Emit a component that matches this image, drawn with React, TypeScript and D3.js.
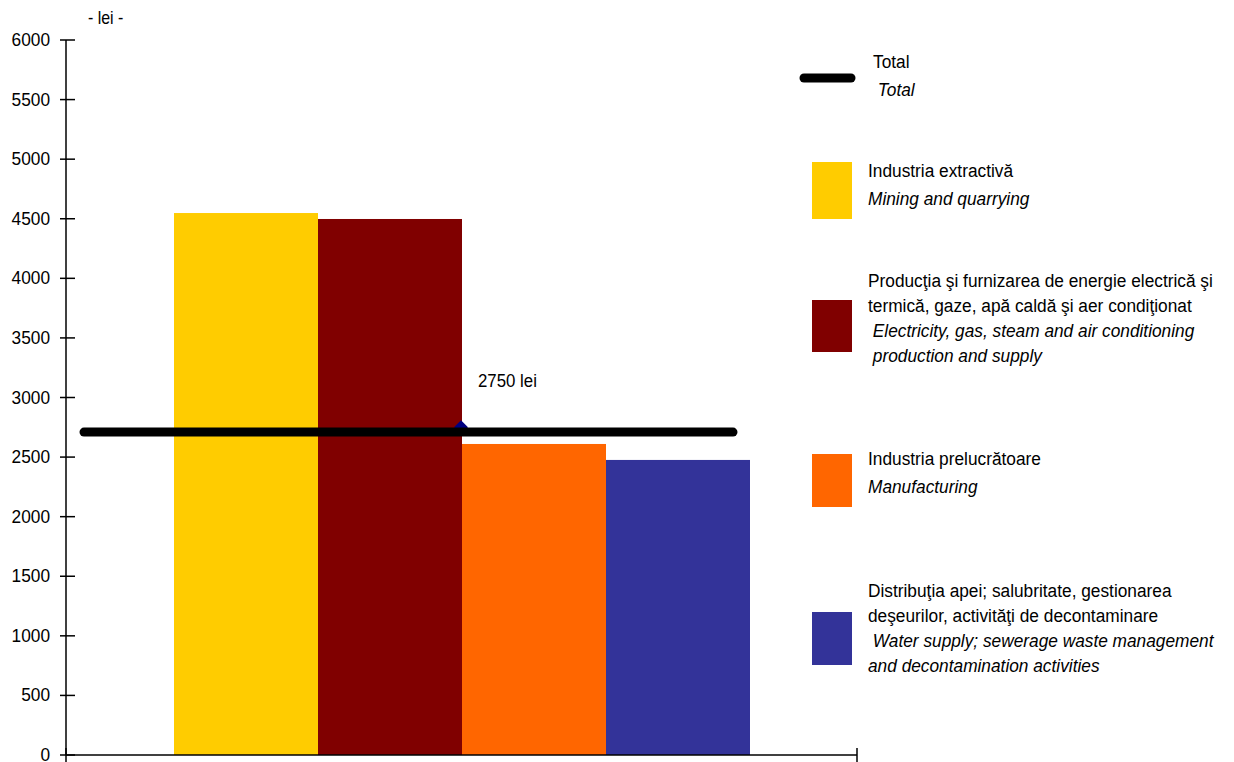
import React from "react";
import * as d3 from "d3";

const categories = [
  "Industria extractivă",
  "Producţia şi furnizarea de energie electrică şi termică, gaze, apă caldă şi aer condiţionat",
  "Industria prelucrătoare",
  "Distribuţia apei; salubritate, gestionarea deşeurilor, activităţi de decontaminare",
];
const values = [4548, 4498, 2610, 2476];
const colors = ["#FFCC00", "#800000", "#FF6600", "#333399"];
const totalLineValue = 2710;
const totalMarkerValue = 2750;
const totalLabel = "2750 lei";
const yTicks = [0, 500, 1000, 1500, 2000, 2500, 3000, 3500, 4000, 4500, 5000, 5500, 6000];
const unitLabel = "- lei -";

const legendTotal = ["Total", " Total"];
const legendLines: string[][] = [
  ["Industria extractivă", "Mining and quarrying"],
  [
    "Producţia şi furnizarea de energie electrică şi",
    "termică, gaze, apă caldă şi aer condiţionat",
    " Electricity, gas, steam and air conditioning",
    " production and supply",
  ],
  ["Industria prelucrătoare", "Manufacturing"],
  [
    "Distribuţia apei; salubritate, gestionarea",
    "deşeurilor, activităţi de decontaminare",
    " Water supply; sewerage waste management",
    "and decontamination activities",
  ],
];
const legendItalicFrom = [1, 2, 1, 2];

const FONT = "'Liberation Sans', Arial, sans-serif";
const SX = 0.91;

function Txt({ x, y, children, anchor = "start", size = 19, italic = false }: any) {
  return (
    <g transform={`translate(${x},${y}) scale(${SX},1)`}>
      <text
        x={0}
        y={0}
        textAnchor={anchor}
        fontFamily={FONT}
        fontSize={size}
        fontStyle={italic ? "italic" : "normal"}
        fill="#000"
        style={{ whiteSpace: "pre" }}
      >
        {children}
      </text>
    </g>
  );
}

export default function App() {
  const x0 = 66;
  const x1 = 857;
  const yScale = d3.scaleLinear().domain([0, 6000]).range([755, 40]);
  const band = d3.scaleBand<number>().domain(d3.range(values.length)).range([174, 750]).padding(0);

  const legendSwatchY = [
    [162, 219],
    [300, 352],
    [454, 507],
    [612, 665],
  ];
  const legendBaselines = [
    [177, 205],
    [287, 312, 337, 362],
    [465, 493],
    [597, 622, 647, 672],
  ];

  const my = yScale(totalMarkerValue);
  const mx = 461;
  const dm = 7;

  return (
    <svg
      width={1234}
      height={762}
      style={{ position: "fixed", left: 0, top: 0, background: "#fff" }}
    >
      <rect x={0} y={0} width={1234} height={762} fill="#fff" />
      {values.map((v, i) => (
        <rect
          key={i}
          x={band(i)!}
          y={yScale(v)}
          width={band.bandwidth()}
          height={yScale(0) - yScale(v)}
          fill={colors[i]}
        />
      ))}
      <path
        d={`M${mx},${my - dm} L${mx + dm},${my} L${mx},${my + dm} L${mx - dm},${my} Z`}
        fill="#000080"
      />
      <line
        x1={84}
        x2={733}
        y1={yScale(totalLineValue)}
        y2={yScale(totalLineValue)}
        stroke="#000"
        strokeWidth={9}
        strokeLinecap="round"
      />
      <Txt x={478} y={387} size={18.5}>{totalLabel}</Txt>

      <line x1={x0} x2={x0} y1={yScale(6000)} y2={yScale(0)} stroke="#000" strokeWidth={1.5} />
      {yTicks.map((t) => (
        <g key={t}>
          <line x1={60} x2={75} y1={yScale(t)} y2={yScale(t)} stroke="#000" strokeWidth={1.5} />
          <Txt x={50} y={yScale(t) + 6} anchor="end" size={19}>{String(t)}</Txt>
        </g>
      ))}
      <line x1={x0} x2={x1} y1={yScale(0)} y2={yScale(0)} stroke="#000" strokeWidth={1.5} />
      <line x1={x0} x2={x0} y1={748} y2={762} stroke="#000" strokeWidth={1.5} />
      <line x1={x1} x2={x1} y1={748} y2={762} stroke="#000" strokeWidth={1.5} />

      <Txt x={88} y={24} size={17.5}>{unitLabel}</Txt>

      <line x1={804} x2={851} y1={78} y2={78} stroke="#000" strokeWidth={9} strokeLinecap="round" />
      <Txt x={873} y={68}>{legendTotal[0]}</Txt>
      <Txt x={873} y={96} italic>{legendTotal[1]}</Txt>

      {legendLines.map((lines, i) => (
        <g key={i}>
          <rect
            x={812}
            y={legendSwatchY[i][0]}
            width={40}
            height={legendSwatchY[i][1] - legendSwatchY[i][0]}
            fill={colors[i]}
          />
          {lines.map((l, j) => (
            <Txt key={j} x={868} y={legendBaselines[i][j]} italic={j >= legendItalicFrom[i]}>
              {l}
            </Txt>
          ))}
        </g>
      ))}
    </svg>
  );
}
